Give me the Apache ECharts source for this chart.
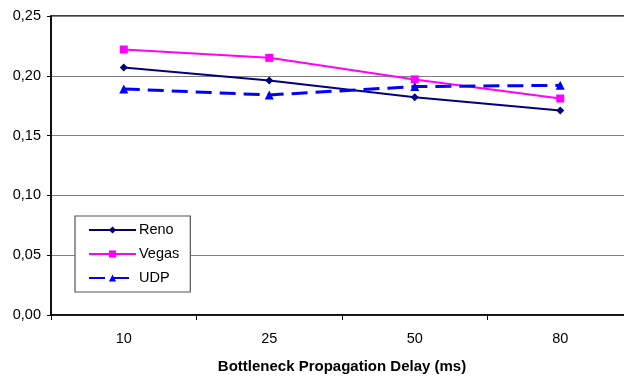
<!DOCTYPE html>
<html>
<head>
<meta charset="utf-8">
<script src="https://cdn.jsdelivr.net/npm/echarts@6/dist/echarts.min.js"></script>
<style>
  html, body { margin: 0; padding: 0; background: #fff; }
  #chart { width: 624px; height: 376px; }
</style>
</head>
<body>
<div id="chart"></div>
<script>
// Propagation delay categories (ms)
const delays = ['10', '25', '50', '80'];

// Measured values per protocol
const reno  = [0.207, 0.196, 0.182, 0.171];
const vegas = [0.222, 0.215, 0.197, 0.181];
const udp   = [0.189, 0.184, 0.191, 0.192];

// Y axis range
const yMin = 0, yMax = 0.25, yStep = 0.05;

const font = 'Liberation Sans, Arial, sans-serif';
const chart = echarts.init(document.getElementById('chart'));

chart.setOption({
  animation: false,
  backgroundColor: '#fff',
  grid: {
    left: 51, top: 16, width: 582, height: 299,
    containLabel: false,
    outerBoundsMode: 'none',
    show: true, borderColor: '#000', borderWidth: 1.5
  },
  legend: {
    orient: 'vertical',
    left: 75, top: 216,
    padding: [6.5, 11, 6.5, 13],
    borderColor: '#555', borderWidth: 1.2,
    backgroundColor: '#fff',
    itemWidth: 47, itemHeight: 9,
    itemGap: 9,
    textStyle: { fontFamily: font, fontSize: 14.5, color: '#000', padding: [0, 0, 0, -2] },
    data: ['Reno', 'Vegas', 'UDP']
  },
  xAxis: {
    type: 'category',
    data: delays,
    boundaryGap: true,
    name: 'Bottleneck Propagation Delay (ms)',
    nameLocation: 'middle',
    nameGap: 44,
    nameTextStyle: { fontFamily: font, fontSize: 15, fontWeight: 'bold', color: '#000' },
    axisLine: { lineStyle: { color: '#000', width: 1.5 } },
    axisTick: { show: true, length: 5, lineStyle: { color: '#000', width: 1 } },
    axisLabel: { fontFamily: font, fontSize: 14.5, color: '#000', margin: 16 },
    splitLine: { show: false }
  },
  yAxis: {
    type: 'value',
    min: yMin, max: yMax, interval: yStep,
    axisLine: { show: true, lineStyle: { color: '#000', width: 1.5 } },
    axisTick: { show: true, length: 4, lineStyle: { color: '#000', width: 1 } },
    axisLabel: {
      fontFamily: font, fontSize: 14.5, color: '#000', margin: 10,
      formatter: v => v.toFixed(2).replace('.', ',')
    },
    splitLine: { show: true, lineStyle: { color: '#808080', width: 1.2 } }
  },
  series: [
    {
      name: 'Reno', type: 'line', data: reno,
      symbol: 'diamond', symbolSize: 8,
      lineStyle: { color: '#000080', width: 2 },
      itemStyle: { color: '#000080' }
    },
    {
      name: 'Vegas', type: 'line', data: vegas,
      symbol: 'rect', symbolSize: 8,
      lineStyle: { color: '#FF00FF', width: 2 },
      itemStyle: { color: '#FF00FF' }
    },
    {
      name: 'UDP', type: 'line', data: udp,
      symbol: 'triangle', symbolSize: 9,
      lineStyle: { color: '#0000FF', width: 3, type: [16, 8] },
      itemStyle: { color: '#0000FF' }
    }
  ]
});
</script>
</body>
</html>
